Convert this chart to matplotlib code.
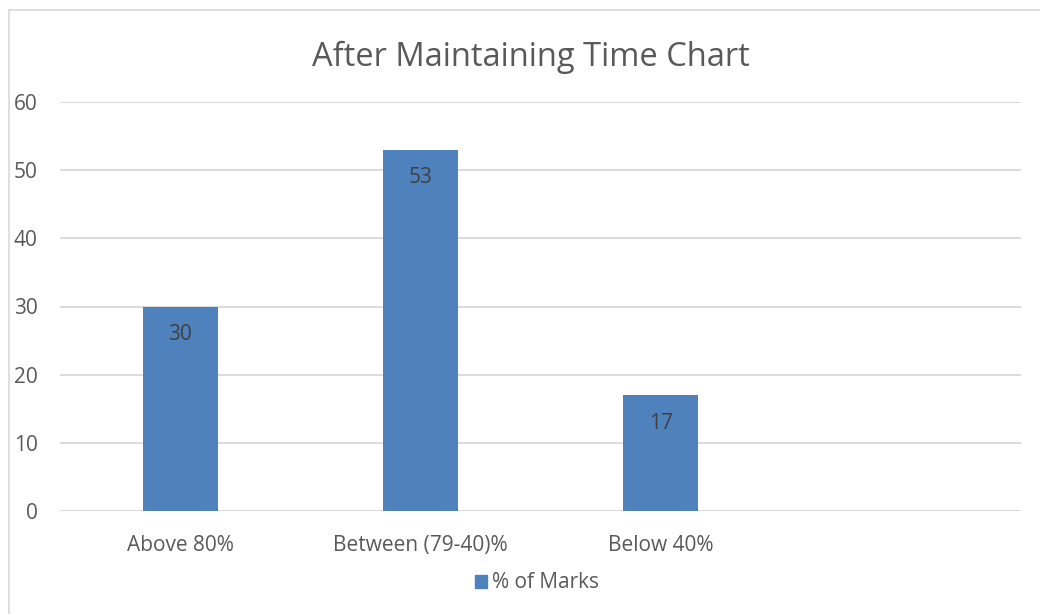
import matplotlib
matplotlib.use("Agg")
import matplotlib.pyplot as plt
from matplotlib.patches import Rectangle, Patch

categories = ["Above 80%", "Between (79-40)%", "Below 40%"]
values = [30, 53, 17]
yticks = [0, 10, 20, 30, 40, 50, 60]
series_name = "% of Marks"
title = "After Maintaining Time Chart"

plt.rcParams['font.family'] = ['Open Sans', 'DejaVu Sans']
TXT = "#595959"
BAR = "#4F81BD"
GRID = "#D9D9D9"

fig = plt.figure(figsize=(10.4, 6.14), dpi=100)
fig.patches.append(Rectangle((9/1040, -0.05), 1.2, 1 - 10/614 + 0.05, transform=fig.transFigure,
                             fill=False, edgecolor=GRID, linewidth=1.2))
ax = fig.add_axes([60/1040, 1 - 511/614, 961/1040, (511 - 102)/614])

x = list(range(len(categories)))
bars = ax.bar(x, values, width=75/240, color=BAR, zorder=3)
ax.set_xlim(-0.5, 3.5)
ax.set_ylim(0, 60)
ax.set_yticks(yticks)
ax.set_xticks(x)
ax.set_xticklabels(categories)
ax.tick_params(axis='both', length=0, colors=TXT, labelsize=15)
ax.tick_params(axis='y', pad=16)
ax.tick_params(axis='x', pad=17)
ax.grid(axis='y', color=GRID, linewidth=1.3, zorder=0)
for s in ax.spines.values():
    s.set_visible(False)
ax.axhline(0, color=GRID, linewidth=1.3, zorder=2)

for b, v in zip(bars, values):
    ax.annotate(str(v), (b.get_x() + b.get_width() / 2, v), xytext=(0, -28),
                textcoords='offset pixels', ha='center', va='center', color="#404040", fontsize=15, zorder=4)

fig.text(531/1040, 1 - 57/614, title, ha='center', va='center', color=TXT, fontsize=23.5)
fig.legend(handles=[Patch(color=BAR, label=series_name)], loc='center', bbox_to_anchor=(537/1040, 1 - 583/614),
           frameon=False, fontsize=15, labelcolor=TXT, handlelength=0.6, handleheight=0.6, handletextpad=0.25)

fig.savefig("out.png", dpi=100)
